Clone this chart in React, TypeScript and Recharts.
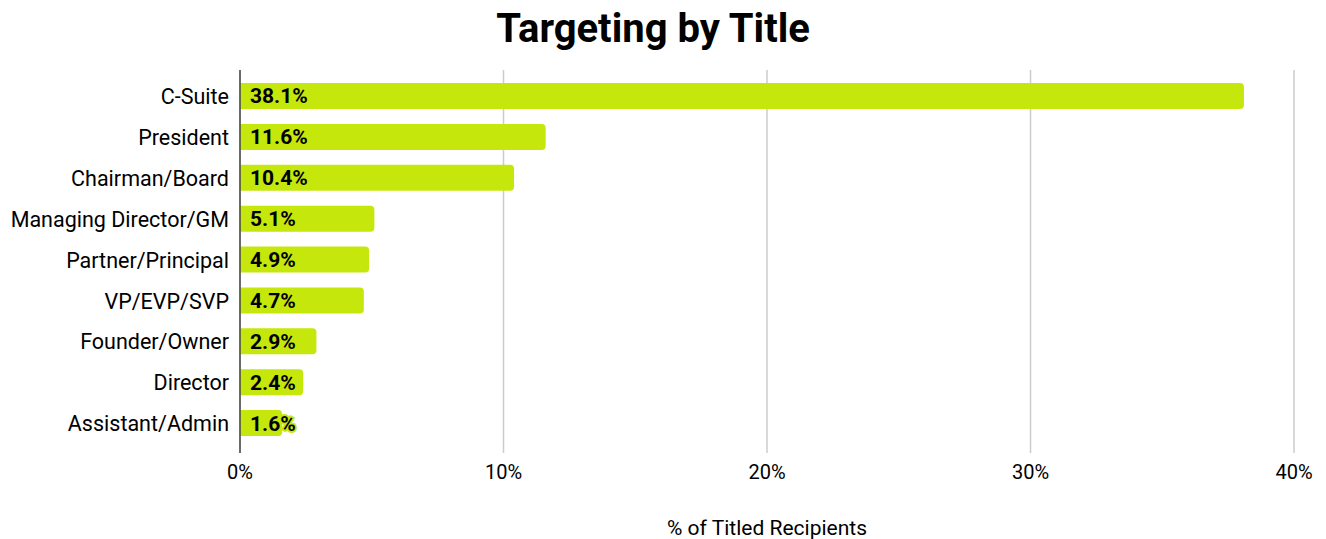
import React from 'react';
import { BarChart, Bar, XAxis, YAxis, CartesianGrid, LabelList } from 'recharts';

const titles = [
  'C-Suite',
  'President',
  'Chairman/Board',
  'Managing Director/GM',
  'Partner/Principal',
  'VP/EVP/SVP',
  'Founder/Owner',
  'Director',
  'Assistant/Admin',
];
const shares = [38.1, 11.6, 10.4, 5.1, 4.9, 4.7, 2.9, 2.4, 1.6];
const xTicks = [0, 10, 20, 30, 40];

const LIME = '#c5e70c';
const FONT = 'Roboto, sans-serif';

const data = titles.map((name, i) => ({ name, value: shares[i] }));

const App = () => {
  return (
    <div style={{ position: 'absolute', left: 0, top: 0, width: 1326, height: 539, fontFamily: FONT }}>
      <div
        style={{
          position: 'absolute',
          top: 5,
          left: 0,
          width: 1306,
          textAlign: 'center',
          fontSize: 40,
          fontWeight: 700,
          color: '#000',
        }}
      >
        Targeting by Title
      </div>
      <BarChart
        width={1326}
        height={539}
        data={data}
        layout="vertical"
        margin={{ top: 70, right: 32, left: 0, bottom: 0 }}
      >
        <CartesianGrid horizontal={false} stroke="#cccccc" strokeWidth={1.5} />
        <XAxis
          type="number"
          domain={[0, 40]}
          ticks={xTicks}
          tickFormatter={(v) => `${v}%`}
          axisLine={false}
          tickLine={false}
          tickMargin={6}
          height={86}
          tick={{ fill: '#000', fontSize: 20, fontFamily: FONT }}
          label={{
            value: '% of Titled Recipients',
            position: 'insideBottom',
            offset: 4,
            fill: '#000',
            fontSize: 21,
            fontFamily: FONT,
          }}
        />
        <YAxis
          type="category"
          dataKey="name"
          width={240}
          axisLine={{ stroke: '#444', strokeWidth: 1.5 }}
          tickLine={false}
          tickMargin={5}
          padding={{ top: 6, bottom: 9 }}
          interval={0}
          tick={{ fill: '#000', fontSize: 21.5, fontFamily: FONT }}
        />
        <Bar dataKey="value" fill={LIME} barSize={26} radius={[0, 4, 4, 0]} isAnimationActive={false}>
          <LabelList
            dataKey="value"
            position="insideLeft"
            offset={10}
            formatter={(v: any) => `${Number(v).toFixed(1)}%`}
            style={{
              fill: '#000',
              fontSize: 21,
              fontWeight: 700,
              fontFamily: FONT,
              stroke: LIME,
              strokeWidth: 4,
              paintOrder: 'stroke',
            }}
          />
        </Bar>
      </BarChart>
    </div>
  );
};

export default App;
